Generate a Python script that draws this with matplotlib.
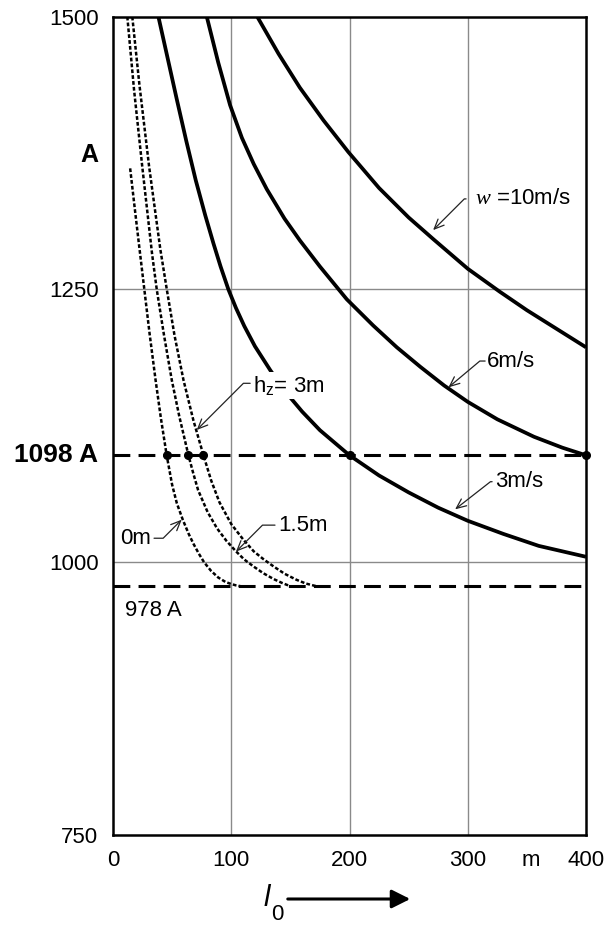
import matplotlib
matplotlib.use("Agg")
import matplotlib.pyplot as plt
from matplotlib.patches import FancyArrowPatch

plt.rcParams["font.family"] = ["Liberation Sans", "DejaVu Sans"]
plt.rcParams["mathtext.fontset"] = "custom"
plt.rcParams["mathtext.rm"] = "Liberation Sans"
plt.rcParams["mathtext.it"] = "Liberation Serif:italic"
plt.rcParams["mathtext.bf"] = "Liberation Sans:bold"

# ---- data: required current A versus line length l0 ----
# wind speed curves (solid)
l_w3 = [38.4, 46, 54, 62, 70, 78, 85, 91, 97.6, 104, 111, 120, 133, 146, 160, 175,
        200, 225, 250, 275, 300, 330, 360, 400]
A_w3 = [1500, 1463, 1424, 1386, 1350, 1318, 1292, 1271, 1250, 1233, 1216.5, 1198, 1176, 1156,
        1138, 1121, 1098, 1079.5, 1064, 1050, 1038, 1026, 1015, 1005]

l_w6 = [79.3, 89, 99, 109, 119, 130, 145, 158, 175, 197.7, 220, 240, 260, 280, 300, 325,
        356, 380, 400]
A_w6 = [1500, 1458, 1419, 1389, 1365, 1342, 1315, 1295, 1271, 1241, 1217, 1197, 1179, 1162,
        1147, 1131, 1115, 1105, 1098]

l_w10 = [122, 140, 158, 178, 199, 225, 250, 271, 300, 327, 350, 375, 400]
A_w10 = [1500, 1466, 1435, 1405, 1376, 1343, 1316, 1296, 1269, 1248, 1231, 1214, 1197]

# height curves h_z (dotted)
l_h0 = [14.5, 18, 22, 26.5, 31, 36, 40.5, 45.4, 50, 54, 59, 64, 68, 72.5, 77, 83, 89, 95,
        100, 104, 108]
A_h0 = [1361, 1328, 1291, 1250, 1209, 1167, 1132, 1098, 1071, 1054, 1039, 1026, 1017, 1008,
        1000, 992, 986, 982, 980, 978.8, 978]

l_h15 = [12.1, 17.8, 24.7, 33, 37, 43, 49.7, 56, 63.8, 68, 72, 80, 88, 96, 104, 111, 119,
         127, 136, 143, 150]
A_h15 = [1500, 1433, 1363, 1283, 1250, 1209, 1167, 1134, 1098, 1081, 1066, 1046, 1031,
         1019.5, 1010, 1002.5, 996, 990, 984.5, 981, 978]

l_h3 = [16.3, 22.3, 30.5, 40, 45.5, 52, 59.6, 68, 76.5, 83, 90, 100, 110, 119, 127, 136,
        145, 155, 163, 172]
A_h3 = [1500, 1438, 1363, 1287, 1250, 1208, 1167, 1130, 1098, 1075, 1055, 1035, 1021, 1010,
        1003, 996, 989.5, 984, 980.5, 978]

# reference currents and marked intersections on the 1098 A line
ref_levels = [1098, 978]
dot_l = [45.4, 63.8, 76.5, 200, 400]
dot_A = [1098, 1098, 1098, 1098, 1098]

x_ticks = [0, 100, 200, 300, 400]
y_ticks = [750, 1000, 1250, 1500]
grid_x = [100, 200, 300]
grid_y = [1000, 1250]

# ---- figure ----
W, H = 608, 940
fig = plt.figure(figsize=(W / 100, H / 100), dpi=100)
ax = fig.add_axes([113 / W, 105 / H, 473 / W, 818.3 / H])
ax.set_xlim(0, 400)
ax.set_ylim(750, 1500)

for gx in grid_x:
    ax.axvline(gx, color="#8a8a8a", lw=1.0, zorder=1)
for gy in grid_y:
    ax.axhline(gy, color="#8a8a8a", lw=1.0, zorder=1)

for lev in ref_levels:
    ax.axhline(lev, color="black", lw=2.2, linestyle=(0, (5.5, 2.7)), zorder=2)

solid = dict(color="black", lw=2.7, solid_capstyle="butt", solid_joinstyle="round", zorder=3)
ax.plot(l_w3, A_w3, **solid)
ax.plot(l_w6, A_w6, **solid)
ax.plot(l_w10, A_w10, **solid)

dotted = dict(color="black", lw=1.8, linestyle=(0, (1.5, 0.85)), zorder=3)
ax.plot(l_h0, A_h0, **dotted)
ax.plot(l_h15, A_h15, **dotted)
ax.plot(l_h3, A_h3, **dotted)

ax.plot(dot_l, dot_A, "o", color="black", ms=5.5, zorder=6, clip_on=False)

for s in ax.spines.values():
    s.set_linewidth(1.8)
    s.set_zorder(7)

ax.set_xticks(x_ticks)
ax.set_yticks(y_ticks)
ax.set_xticklabels([str(v) for v in x_ticks])
ax.set_yticklabels([str(v) for v in y_ticks])
ax.tick_params(length=0, labelsize=16, pad=10.5)

# extra axis texts
ax.annotate("m", xy=(353, 0), xycoords=ax.get_xaxis_transform(),
            xytext=(0, -10.5), textcoords="offset points",
            ha="center", va="top", fontsize=16)
ax.annotate("A", xy=(0, 1373), xycoords=ax.get_yaxis_transform(),
            xytext=(-10.5, 0), textcoords="offset points",
            ha="right", va="center", fontsize=18, fontweight="bold")
ax.annotate("1098 A", xy=(0, 1098), xycoords=ax.get_yaxis_transform(),
            xytext=(-10.5, 0), textcoords="offset points",
            ha="right", va="center", fontsize=19, fontweight="bold")
ax.text(10.2, 956, "978 A", ha="left", va="center", fontsize=16)


def pointer(start, tip, angle_b):
    """Thin leader line: short horizontal stub, then a slanted run to the arrow tip."""
    ax.annotate("", xy=tip, xytext=start,
                arrowprops=dict(arrowstyle="->,head_length=0.5,head_width=0.22",
                                mutation_scale=14, lw=0.9, color="#222222",
                                shrinkA=0, shrinkB=0,
                                connectionstyle=f"angle,angleA=0,angleB={angle_b},rad=0"),
                zorder=5)


ax.text(306, 1333, "$w$ =10m/s", ha="left", va="center", fontsize=16)
pointer((298.6, 1333), (270.7, 1304.4), 45)

ax.text(316.5, 1184.4, "6m/s", ha="left", va="center", fontsize=16)
pointer((314.7, 1184.4), (283.7, 1160.3), 40)

ax.text(323.5, 1073.8, "3m/s", ha="left", va="center", fontsize=16)
pointer((320.6, 1073.8), (289.3, 1048.5), 38)

ax.text(118.6, 1156, r"h$_{\mathrm{z}}$= 3m", ha="left", va="baseline", fontsize=16,
        bbox=dict(facecolor="white", edgecolor="none", pad=1.5), zorder=4)
pointer((116.0, 1164), (70.8, 1121.2), 45)

ax.text(139.5, 1034, "1.5m", ha="left", va="center", fontsize=16)
pointer((137, 1034), (104, 1009.7), 45)

ax.text(32.1, 1022, "0m", ha="right", va="center", fontsize=16)
pointer((34.7, 1022), (58.1, 1039), 45)

# axis label l0 with direction arrow
fig.text(267 / W, 1 - 898 / H, "l", fontsize=21, fontstyle="italic", ha="center", va="center")
fig.text(277 / W, 1 - 914 / H, "0", fontsize=16, ha="center", va="center")
fig.add_artist(FancyArrowPatch(
    (285 / W, 1 - 899 / H), (413 / W, 1 - 899 / H), transform=fig.transFigure,
    arrowstyle="-|>,head_length=0.7,head_width=0.35", mutation_scale=16,
    lw=2.2, color="black"))

fig.savefig("out.png", dpi=100, facecolor="white")
